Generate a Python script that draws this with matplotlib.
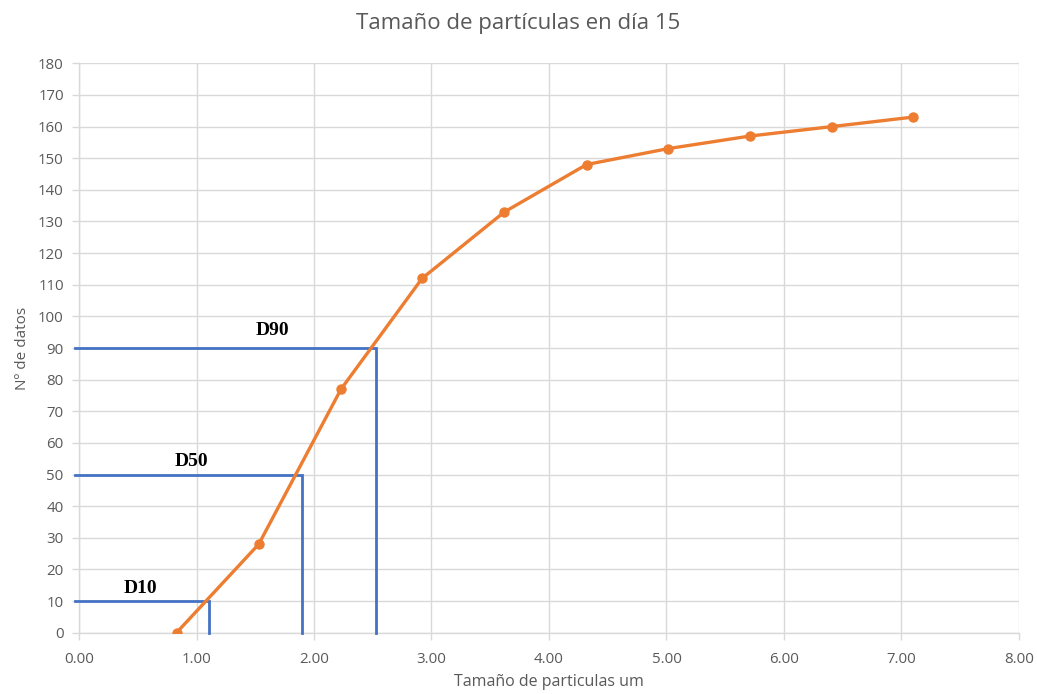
import matplotlib
matplotlib.use("Agg")
import matplotlib.pyplot as plt
from matplotlib.ticker import MultipleLocator, FormatStrFormatter

# Cumulative particle count vs. particle size (day 15)
size_um = [0.83, 1.53, 2.23, 2.92, 3.62, 4.32, 5.01, 5.71, 6.41, 7.10]
n_datos = [0, 28, 77, 112, 133, 148, 153, 157, 160, 163]

# Percentile markers: label, count level, size at that level
d_labels = ["D10", "D50", "D90"]
d_levels = [10, 50, 90]
d_sizes = [1.11, 1.90, 2.53]
d_text_pos = [(0.52, 14.0), (0.96, 54.0), (1.65, 95.5)]

TEXT = "#595959"
GRID = "#D9D9D9"
ORANGE = "#ED7D31"
BLUE = "#4472C4"

plt.rcParams["font.family"] = ["Open Sans", "DejaVu Sans"]

fig = plt.figure(figsize=(10.37, 6.94), dpi=100)
ax = fig.add_axes([0.0762, 0.0883, 0.9064, 0.8205])

ax.set_xlim(0, 8)
ax.set_ylim(0, 180)
ax.xaxis.set_major_locator(MultipleLocator(1))
ax.yaxis.set_major_locator(MultipleLocator(10))
ax.xaxis.set_major_formatter(FormatStrFormatter("%.2f"))
ax.grid(True, color=GRID, linewidth=1.0)
ax.set_axisbelow(True)
for side in ("top", "right"):
    ax.spines[side].set_visible(False)
for side in ("left", "bottom"):
    ax.spines[side].set_color(GRID)
    ax.spines[side].set_linewidth(1.0)
ax.tick_params(axis="both", colors=GRID, labelcolor=TEXT, labelsize=10.8,
               length=5, width=1.0)
ax.tick_params(axis="x", pad=9)
ax.tick_params(axis="y", pad=6)

# Percentile guide lines
for lab, lvl, sz, (tx, ty) in zip(d_labels, d_levels, d_sizes, d_text_pos):
    ax.plot([-0.03, sz, sz], [lvl, lvl, 0], color=BLUE, linewidth=2.0,
            clip_on=False, zorder=3, solid_joinstyle="miter")
    ax.text(tx, ty, lab, family="Liberation Serif", fontweight="bold",
            fontsize=14, color="black", ha="center", va="center", zorder=5)

ax.plot(size_um, n_datos, color=ORANGE, linewidth=2.4, marker="o",
        markersize=6.5, zorder=4)

fig.text(0.5, 0.966, "Tamaño de partículas en día 15", ha="center",
         va="center", fontsize=16, color=TEXT)
ax.set_xlabel("Tamaño de particulas um", fontsize=11.5, color=TEXT, labelpad=5)
ax.set_ylabel("Nº de datos", fontsize=11, color=TEXT, labelpad=6)

fig.savefig("out.png", dpi=100, facecolor="white")
